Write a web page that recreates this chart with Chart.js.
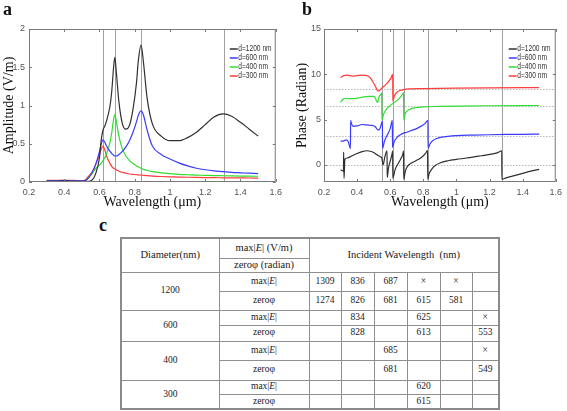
<!DOCTYPE html>
<html><head><meta charset="utf-8">
<script src="https://cdn.jsdelivr.net/npm/chart.js@4.4.0/dist/chart.umd.min.js"></script>
<style>
html,body{margin:0;padding:0;background:#fff;}
#wrap{position:relative;width:567px;height:411px;overflow:hidden;background:#fff;}
canvas{position:absolute;}
.lbl{position:absolute;font-family:'Liberation Serif','Times New Roman',serif;font-weight:bold;font-size:18px;line-height:1;color:#111;}
#tbl{position:absolute;left:120px;top:237px;border-collapse:collapse;table-layout:fixed;font-family:'Liberation Serif','Times New Roman',serif;color:#1a1a1a;border:2px solid #8a8a8a;}
#tbl td{border:1.5px solid #8f8f8f;text-align:center;vertical-align:middle;padding:0;font-size:9.5px;line-height:1;white-space:nowrap;overflow:hidden;}
#tbl td.h{font-size:10.5px;}
#tbl td.d{font-size:9.5px;}
</style></head>
<body>
<div id="wrap">
  <canvas id="ca" width="287" height="215" style="left:0;top:0;"></canvas>
  <canvas id="cb" width="282" height="215" style="left:285px;top:0;"></canvas>
  <div class="lbl" style="left:3px;top:0px;">a</div>
  <div class="lbl" style="left:302px;top:0px;">b</div>
  <div class="lbl" style="left:99px;top:216px;">c</div>
  <table id="tbl">
    <colgroup>
      <col style="width:98px"><col style="width:90px"><col style="width:32px"><col style="width:33px">
      <col style="width:33px"><col style="width:33px"><col style="width:32px"><col style="width:27px">
    </colgroup>
    <tbody id="tb"></tbody>
  </table>
</div>
<script>
// ---------- Panel a data: amplitude ----------
const ampWave = [0.30,0.35,0.40,0.45,0.50,0.52,0.54,0.56,0.58,0.60,0.61,0.62,0.63,0.64,0.66,0.67,0.68,0.687,0.695,0.71,0.73,0.75,0.77,0.79,0.81,0.82,0.836,0.85,0.87,0.90,0.95,1.00,1.05,1.10,1.15,1.20,1.25,1.30,1.35,1.40,1.45,1.50];
const amp1200 = [0.01,0.01,0.015,0.01,0.01,0.01,0.01,0.03,0.12,0.32,0.55,0.68,0.73,0.80,1.00,1.20,1.50,1.63,1.45,1.05,0.76,0.69,0.74,0.95,1.30,1.58,1.79,1.55,1.10,0.76,0.60,0.54,0.54,0.58,0.65,0.75,0.85,0.89,0.86,0.78,0.69,0.60];
const amp600  = [0.015,0.015,0.02,0.015,0.015,0.02,0.06,0.13,0.24,0.40,0.50,0.55,0.52,0.47,0.40,0.37,0.35,0.34,0.34,0.36,0.40,0.46,0.54,0.65,0.79,0.87,0.93,0.87,0.68,0.47,0.36,0.30,0.25,0.21,0.18,0.16,0.145,0.135,0.125,0.12,0.115,0.11];
const amp400  = [0.01,0.01,0.015,0.01,0.01,0.02,0.06,0.12,0.18,0.22,0.25,0.28,0.32,0.37,0.52,0.65,0.82,0.88,0.80,0.60,0.43,0.34,0.28,0.245,0.21,0.20,0.18,0.165,0.15,0.135,0.12,0.11,0.10,0.095,0.09,0.087,0.084,0.082,0.08,0.078,0.076,0.075];
const amp300  = [0.02,0.02,0.02,0.02,0.015,0.03,0.08,0.14,0.24,0.36,0.43,0.47,0.42,0.34,0.24,0.20,0.18,0.17,0.16,0.14,0.125,0.115,0.105,0.10,0.095,0.093,0.09,0.087,0.083,0.078,0.072,0.068,0.065,0.062,0.06,0.058,0.056,0.055,0.054,0.053,0.052,0.05];
const refWaveA = [0.62,0.687,0.836,1.309];

// ---------- Panel b data: phase ----------
const ph1200X = [0.300,0.312,0.318,0.3185,0.321,0.326,0.340,0.370,0.400,0.430,0.460,0.480,0.500,0.520,0.540,0.549,0.557,0.568,0.581,0.5815,0.590,0.600,0.610,0.615,0.6155,0.630,0.650,0.665,0.675,0.681,0.6815,0.690,0.700,0.720,0.750,0.780,0.800,0.815,0.826,0.8265,0.835,0.850,0.870,0.900,0.950,1.000,1.050,1.100,1.150,1.200,1.250,1.274,1.2745,1.300,1.350,1.400,1.450,1.500];
const ph1200  = [-0.55,-0.65,-0.7,1.4,-1.5,0.6,0.75,1.0,1.25,1.45,1.55,1.5,1.35,1.1,0.9,0.75,0.0,0.9,1.55,-1.4,-0.3,0.4,1.1,1.55,-1.5,-0.5,0.2,0.7,1.1,1.55,-1.6,-0.8,-0.3,0.1,0.4,0.7,1.0,1.3,1.6,-1.6,-1.0,-0.5,-0.1,0.2,0.45,0.6,0.72,0.85,1.0,1.15,1.35,1.55,-1.6,-1.45,-1.2,-0.95,-0.7,-0.5];
const ph600X = [0.300,0.320,0.335,0.345,0.352,0.360,0.3605,0.366,0.375,0.400,0.430,0.460,0.490,0.510,0.525,0.535,0.545,0.553,0.5535,0.565,0.580,0.600,0.613,0.6135,0.625,0.640,0.660,0.680,0.700,0.730,0.760,0.790,0.810,0.828,0.8285,0.840,0.860,0.880,0.910,0.950,1.000,1.100,1.200,1.300,1.400,1.500];
const ph600  = [2.6,2.65,2.75,2.6,2.2,1.8,4.9,4.55,4.25,4.3,4.45,4.4,4.35,4.2,3.85,3.9,4.4,4.85,1.8,2.6,3.2,4.0,4.9,1.9,2.6,3.0,3.3,3.5,3.6,3.8,4.0,4.3,4.55,4.9,1.8,2.3,2.7,2.9,3.05,3.15,3.22,3.28,3.32,3.35,3.37,3.38];
const ph400X = [0.300,0.315,0.330,0.350,0.380,0.410,0.440,0.470,0.500,0.510,0.520,0.525,0.532,0.540,0.549,0.5495,0.560,0.575,0.590,0.610,0.630,0.650,0.665,0.675,0.681,0.6815,0.690,0.700,0.720,0.750,0.800,0.900,1.000,1.200,1.500];
const ph400  = [6.9,7.25,7.35,7.3,7.3,7.4,7.5,7.55,7.55,7.35,6.95,6.9,7.5,7.7,7.95,4.95,5.6,6.1,6.4,6.7,6.95,7.25,7.55,7.8,8.0,4.95,5.6,5.9,6.15,6.3,6.4,6.45,6.48,6.52,6.55];
const ph300X = [0.300,0.320,0.340,0.370,0.400,0.430,0.460,0.480,0.500,0.515,0.525,0.535,0.550,0.570,0.590,0.605,0.615,0.6155,0.625,0.640,0.660,0.680,0.720,0.800,0.900,1.000,1.200,1.500];
const ph300  = [9.65,9.85,9.9,9.8,9.85,9.9,9.85,9.6,9.0,8.5,8.15,8.2,8.5,8.8,9.2,9.6,10.0,7.0,7.6,8.0,8.2,8.3,8.38,8.42,8.45,8.47,8.5,8.52];
const refWaveB = [0.551,0.615,0.681,0.826,1.274];
const refPhaseB = [8.4,6.5,3.2,0];

// ---------- ticks & labels ----------
const xTicks = [0.2,0.4,0.6,0.8,1,1.2,1.4,1.6];
const xTickLabels = ['0.2','0.4','0.6','0.8','1','1.2','1.4','1.6'];
const yTicksA = [0,0.5,1,1.5,2];
const yTickLabelsA = ['0','0.5','1','1.5','2'];
const yTicksB = [0,5,10,15];
const yTickLabelsB = ['0','5','10','15'];
const seriesLabels = ['d=1200 nm','d=600 nm','d=400 nm','d=300 nm'];
const seriesColors = ['#303030','#3a3aff','#30dd30','#ff3c3c'];

// ---------- table data ----------
const tableDiam = ['1200','600','400','300'];
const tableMaxE = [['1309','836','687','×','×',''],['','834','','625','','×'],['','','685','','','×'],['','','','620','','']];
const tableZero = [['1274','826','681','615','581',''],['','828','','613','','553'],['','','681','','','549'],['','','','615','','']];

// ---------- plugins ----------
const framePlugin = {
  id: 'frame',
  beforeDatasetsDraw(chart, args, o) {
    const {ctx, chartArea: a, scales: {x, y}} = chart;
    ctx.save();
    ctx.strokeStyle = '#a0a0a0'; ctx.lineWidth = 1;
    (o.vlines || []).forEach(v => {
      const px = Math.round(x.getPixelForValue(v)) + 0.5;
      ctx.beginPath(); ctx.moveTo(px, a.top); ctx.lineTo(px, a.bottom); ctx.stroke();
    });
    ctx.strokeStyle = '#b8b8b8'; ctx.setLineDash([1.5, 1.5]);
    (o.hlines || []).forEach(v => {
      const py = Math.round(y.getPixelForValue(v)) + 0.5;
      ctx.beginPath(); ctx.moveTo(a.left, py); ctx.lineTo(a.right, py); ctx.stroke();
    });
    ctx.restore();
  },
  afterDraw(chart) {
    const {ctx, chartArea: a, scales: {x, y}} = chart;
    ctx.save();
    ctx.strokeStyle = '#7a7a7a'; ctx.lineWidth = 1;
    ctx.strokeRect(a.left + 0.5, a.top + 0.5, a.right - a.left - 1, a.bottom - a.top - 1);
    x.ticks.forEach(t => {
      const px = Math.round(x.getPixelForValue(t.value)) + 0.5;
      ctx.beginPath(); ctx.moveTo(px, a.bottom); ctx.lineTo(px, a.bottom - 3);
      ctx.moveTo(px, a.top); ctx.lineTo(px, a.top + 3); ctx.stroke();
    });
    y.ticks.forEach(t => {
      const py = Math.round(y.getPixelForValue(t.value)) + 0.5;
      ctx.beginPath(); ctx.moveTo(a.left, py); ctx.lineTo(a.left + 3, py);
      ctx.moveTo(a.right, py); ctx.lineTo(a.right - 3, py); ctx.stroke();
    });
    ctx.restore();
  }
};
const legendPlugin = {
  id: 'ilegend',
  afterDraw(chart, args, o) {
    const {ctx, chartArea: a} = chart;
    ctx.save();
    ctx.font = "8.5px 'Liberation Sans',Arial,sans-serif";
    ctx.textBaseline = 'middle';
    chart.data.datasets.forEach((ds, i) => {
      const yy = a.top + o.top + i * o.gap;
      const x0 = a.right - o.right;
      ctx.strokeStyle = ds.borderColor; ctx.lineWidth = 1.5;
      ctx.beginPath(); ctx.moveTo(x0, yy); ctx.lineTo(x0 + o.len, yy); ctx.stroke();
      ctx.fillStyle = '#333';
      ctx.save();
      ctx.translate(x0 + o.len + 0.5, yy);
      ctx.scale(0.78, 1);
      ctx.fillText(ds.label, 0, 0);
      ctx.restore();
    });
    ctx.restore();
  }
};

const tickFont = {family: "'Liberation Sans',Arial,sans-serif", size: 9};
const titleFont = {family: "'Liberation Serif','Times New Roman',serif", size: 14};

function makeChart(id, datasets, cfg) {
  return new Chart(document.getElementById(id), {
    type: 'line',
    data: {datasets},
    options: {
      responsive: false, animation: false, devicePixelRatio: 1,
      layout: {padding: {top: 29, right: cfg.padRight, left: 0, bottom: 0}},
      elements: {point: {radius: 0}, line: {borderWidth: 1.2, cubicInterpolationMode: 'monotone'}},
      plugins: {legend: {display: false}, tooltip: {enabled: false},
        frame: {vlines: cfg.vlines, hlines: cfg.hlines},
        ilegend: {top: 20, gap: 9, right: cfg.legRight, len: 8}},
      scales: {
        x: {type: 'linear', min: 0.2, max: 1.6,
          afterBuildTicks: s => { s.ticks = xTicks.map(v => ({value: v})); },
          afterFit: s => { s.height = 33; },
          grid: {display: false, drawTicks: false, tickLength: 0}, border: {display: false},
          ticks: {font: tickFont, color: '#555', padding: 5, maxRotation: 0, autoSkip: false,
                  callback: (v, i) => xTickLabels[i]},
          title: {display: true, text: 'Wavelength (μm)', font: titleFont, color: '#111', padding: {top: 0, bottom: 4}}},
        y: {type: 'linear', min: cfg.ymin, max: cfg.ymax,
          afterBuildTicks: s => { s.ticks = cfg.yTicks.map(v => ({value: v})); },
          afterFit: s => { s.width = cfg.yWidth; },
          grid: {display: false, drawTicks: false, tickLength: 0}, border: {display: false},
          ticks: {font: tickFont, color: '#555', padding: cfg.yPad, autoSkip: false,
                  callback: (v, i) => cfg.yLabels[i]},
          title: {display: true, text: cfg.yTitle, font: titleFont, color: '#111', padding: {top: cfg.yTitlePad, bottom: 0}}}
      }
    },
    plugins: [framePlugin, legendPlugin]
  });
}

const ampSeries = [amp1200, amp600, amp400, amp300];
makeChart('ca', ampSeries.map((arr, i) => ({
  label: seriesLabels[i], borderColor: seriesColors[i],
  data: ampWave.map((w, j) => ({x: w, y: arr[j]}))
})), {padRight: 4, legRight: 46, vlines: refWaveA, hlines: [], ymin: 0, ymax: 2, yTicks: yTicksA, yLabels: yTickLabelsA,
     yWidth: 29, yPad: 4, yTitle: 'Amplitude (V/m)', yTitlePad: 1});

const phX = [ph1200X, ph600X, ph400X, ph300X];
const phY = [ph1200, ph600, ph400, ph300];
makeChart('cb', phY.map((arr, i) => ({
  label: seriesLabels[i], borderColor: seriesColors[i],
  data: phX[i].map((w, j) => ({x: w, y: arr[j]}))
})), {padRight: 5, legRight: 47, vlines: refWaveB, hlines: refPhaseB, ymin: -1.9, ymax: 15, yTicks: yTicksB, yLabels: yTickLabelsB,
     yWidth: 39, yPad: 3, yTitle: 'Phase (Radian)', yTitlePad: 9});

// ---------- table ----------
const rowH = [20, 14, 19, 19, 15, 16, 19, 20, 14, 15];
const tb = document.getElementById('tb');
let html = '';
html += `<tr style="height:${rowH[0]}px"><td class="h" rowspan="2">Diameter(nm)</td><td class="h">max|<i>E</i>| (V/m)</td><td class="h" colspan="6" rowspan="2">Incident Wavelength&nbsp; (nm)</td></tr>`;
html += `<tr style="height:${rowH[1]}px"><td class="h">zeroφ (radian)</td></tr>`;
tableDiam.forEach((d, i) => {
  html += `<tr style="height:${rowH[2 + 2*i]}px"><td class="d" rowspan="2">${d}</td><td>max|<i>E</i>|</td>` +
    tableMaxE[i].map(v => `<td>${v}</td>`).join('') + '</tr>';
  html += `<tr style="height:${rowH[3 + 2*i]}px"><td>zeroφ</td>` +
    tableZero[i].map(v => `<td>${v}</td>`).join('') + '</tr>';
});
tb.innerHTML = html;
</script>
</body></html>
